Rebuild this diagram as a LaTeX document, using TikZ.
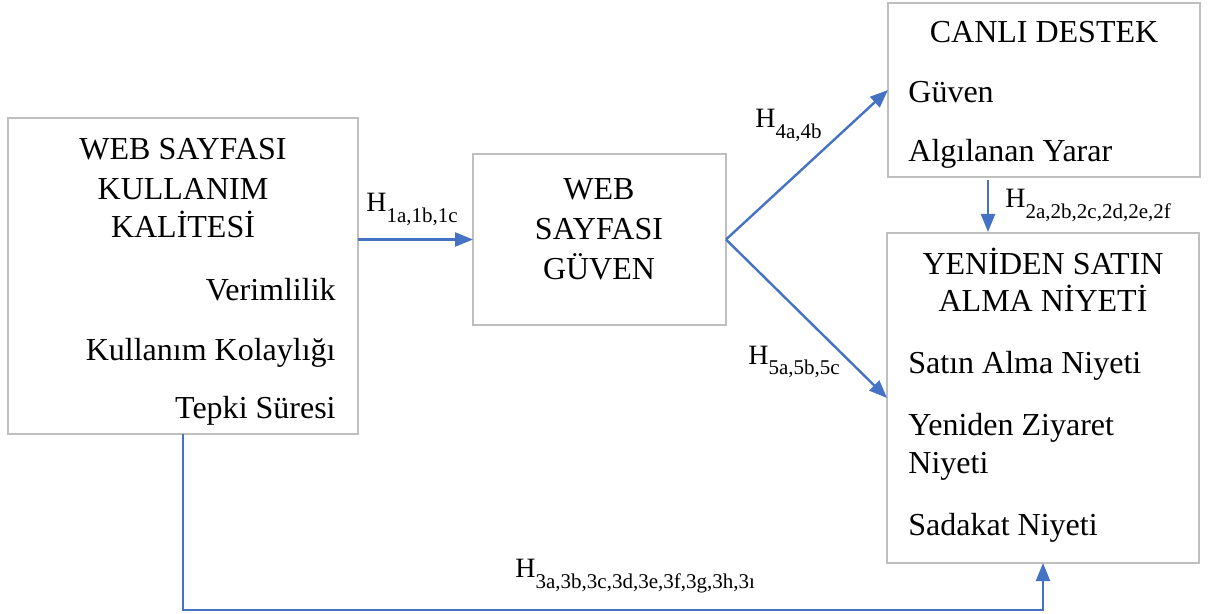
\documentclass[tikz,border=0pt]{standalone}
\usepackage{fontspec}
\setmainfont{Liberation Serif}
\usetikzlibrary{arrows.meta}

\definecolor{boxgrey}{HTML}{BFBFBF}
\definecolor{linkblue}{HTML}{4472C4}

% hypothesis label: H with a lowered index
\newcommand{\hyp}[1]{{\fontsize{14}{16}\selectfont H}\raisebox{-5.5pt}{\fontsize{10.5}{12}\selectfont #1}}

\tikzset{
  box/.style={draw=boxgrey, line width=1pt, rectangle, anchor=north west,
              inner sep=0pt, outer sep=0pt},
  txt/.style={inner sep=0pt, font=\fontsize{16}{19}\selectfont},
  lbl/.style={inner sep=0pt, anchor=base west},
  link/.style={draw=linkblue, line width=1.2pt},
  arr/.style={link, -{Triangle[length=9pt,width=7pt]}},
}

\begin{document}
\begin{tikzpicture}[x=0.5pt, y=-0.5pt]
\useasboundingbox (0,0) rectangle (1213,614);

% boxes
\node[box, minimum width=175pt, minimum height=158pt] (usage) at (8,118) {};
\node[box, minimum width=126.5pt, minimum height=85.5pt] (trust) at (473,154) {};
\node[box, minimum width=156pt, minimum height=87pt] (live) at (888,3) {};
\node[box, minimum width=156pt, minimum height=165pt] (rebuy) at (887,233) {};

% usage quality box
\node[txt, anchor=base] (u1) at (183,160) {WEB SAYFASI};
\node[txt, anchor=base] (u2) at (183,200) {KULLANIM};
\node[txt, anchor=base] (u3) at (183,238) {KALİTESİ};
\node[txt, anchor=base east] (u4) at (336,300) {Verimlilik};
\node[txt, anchor=base east] (u5) at (336,360) {Kullanım Kolaylığı};
\node[txt, anchor=base east] (u6) at (336,418) {Tepki Süresi};

% trust box
\node[txt, anchor=base] (t1) at (599,200) {WEB};
\node[txt, anchor=base] (t2) at (599,240) {SAYFASI};
\node[txt, anchor=base] (t3) at (599,280) {GÜVEN};

% live support box
\node[txt, anchor=base] (l1) at (1044,43) {CANLI DESTEK};
\node[txt, anchor=base west] (l2) at (908,103) {Güven};
\node[txt, anchor=base west] (l3) at (908,162) {Algılanan Yarar};

% repurchase intention box
\node[txt, anchor=base] (r1) at (1043,275) {YENİDEN SATIN};
\node[txt, anchor=base] (r2) at (1043,312) {ALMA NİYETİ};
\node[txt, anchor=base west] (r3) at (908,373) {Satın Alma Niyeti};
\node[txt, anchor=base west] (r4) at (908,435) {Yeniden Ziyaret};
\node[txt, anchor=base west] (r5) at (908,473) {Niyeti};
\node[txt, anchor=base west] (r6) at (908,535) {Sadakat Niyeti};

% connectors
\draw[arr] (usage.east |- trust.west) -- (trust.west);
\draw[arr] (trust.east) -- (live.west);
\draw[arr] (trust.east) -- (rebuy.west);
\coordinate (dtop) at (988,180);
\coordinate (dbot) at (988,232);
\draw[arr] (dtop) -- (dbot);
\coordinate (low) at (0,610);
\draw[arr] (usage.south) -- (usage.south |- low) -- (rebuy.south |- low) -- (rebuy.south);

% hypothesis labels
\node[lbl] (h1) at (366,212) {\hyp{1a,1b,1c}};
\node[lbl] (h4) at (755,128) {\hyp{4a,4b}};
\node[lbl] (h5) at (748,364) {\hyp{5a,5b,5c}};
\node[lbl] (h2) at (1005,208) {\hyp{2a,2b,2c,2d,2e,2f}};
\node[lbl] (h3) at (515,577) {\hyp{3a,3b,3c,3d,3e,3f,3g,3h,3ı}};
\end{tikzpicture}
\end{document}
